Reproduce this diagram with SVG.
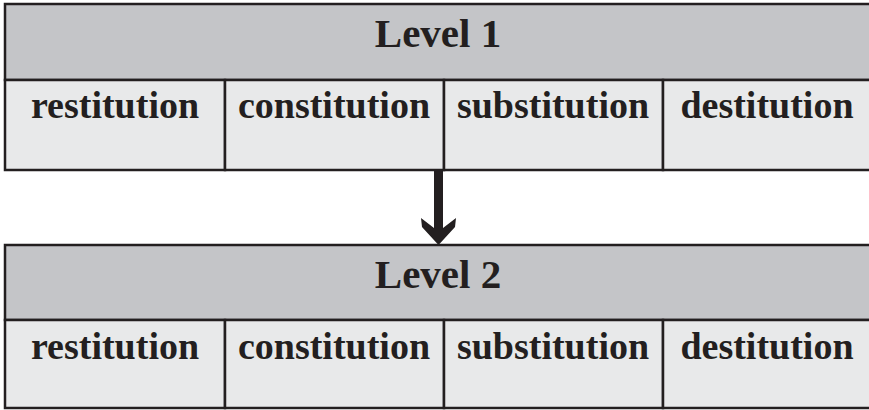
<svg xmlns="http://www.w3.org/2000/svg" width="869" height="410" viewBox="0 0 869 410">
<style>
.hdr{fill:#c4c5c8;stroke:#231f20;stroke-width:2.5}
.cell{fill:#e8e9ea;stroke:#231f20;stroke-width:2.5}
.t{font-family:"Liberation Serif","Times New Roman",serif;font-weight:bold;fill:#231f20;text-anchor:middle}
.h{font-size:41px}
.c{font-size:38px}
</style>
<rect width="869" height="410" fill="#ffffff"/>
<g id="level1">
  <g id="level1-header">
    <rect class="hdr" x="5" y="4" width="880" height="76"/>
    <text class="t h" x="438" y="47">Level 1</text>
  </g>
  <g id="level1-restitution">
    <rect class="cell" x="5" y="80" width="220" height="90"/>
    <text class="t c" x="115" y="118">restitution</text>
  </g>
  <g id="level1-constitution">
    <rect class="cell" x="225" y="80" width="219" height="90"/>
    <text class="t c" x="334" y="118">constitution</text>
  </g>
  <g id="level1-substitution">
    <rect class="cell" x="444" y="80" width="219" height="90"/>
    <text class="t c" x="553" y="118">substitution</text>
  </g>
  <g id="level1-destitution">
    <rect class="cell" x="663" y="80" width="222" height="90"/>
    <text class="t c" x="767" y="118">destitution</text>
  </g>
</g>
<g id="level2">
  <g id="level2-header">
    <rect class="hdr" x="5" y="245" width="880" height="75"/>
    <text class="t h" x="438" y="288">Level 2</text>
  </g>
  <g id="level2-restitution">
    <rect class="cell" x="5" y="320" width="220" height="88"/>
    <text class="t c" x="115" y="359">restitution</text>
  </g>
  <g id="level2-constitution">
    <rect class="cell" x="225" y="320" width="219" height="88"/>
    <text class="t c" x="334" y="359">constitution</text>
  </g>
  <g id="level2-substitution">
    <rect class="cell" x="444" y="320" width="219" height="88"/>
    <text class="t c" x="553" y="359">substitution</text>
  </g>
  <g id="level2-destitution">
    <rect class="cell" x="663" y="320" width="222" height="88"/>
    <text class="t c" x="767" y="359">destitution</text>
  </g>
</g>
<g id="connectors">
  <polygon fill="#231f20" points="434,171 443,171 443,228 456,218 455,227 438.5,245 422,227 421,218 434,228"/>
</g>
</svg>
